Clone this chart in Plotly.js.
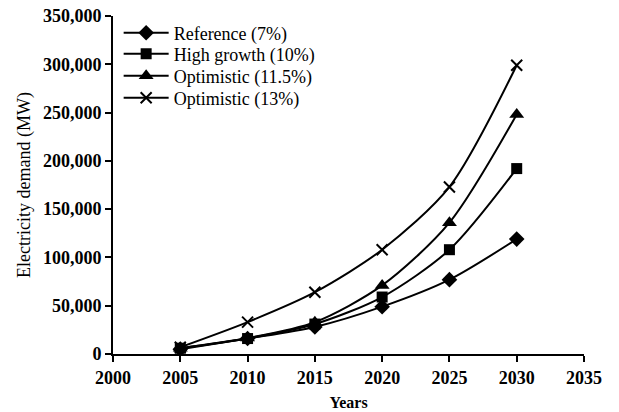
<!DOCTYPE html>
<html>
<head>
<meta charset="utf-8">
<script src="https://cdn.plot.ly/plotly-3.0.1.min.js"></script>
<style>html,body{margin:0;padding:0;background:#fff;}#chart{width:619px;height:412px;}</style>
</head>
<body>
<div id="chart"></div>
<script>
const years = [2005, 2010, 2015, 2020, 2025, 2030];
const reference7 = [5000, 16000, 28000, 49000, 77000, 119000];
const highGrowth10 = [6000, 16000, 31000, 59000, 108000, 192000];
const optimistic115 = [6000, 16500, 33000, 71000, 136000, 248000];
const optimistic13 = [7000, 33000, 64000, 108000, 173000, 299000];
const seriesNames = ['Reference (7%)', 'High growth (10%)', 'Optimistic (11.5%)', 'Optimistic (13%)'];
const xTicks = [2000, 2005, 2010, 2015, 2020, 2025, 2030, 2035];
const yTicks = [0, 50000, 100000, 150000, 200000, 250000, 300000, 350000];
const yTickText = ['0', '50,000', '100,000', '150,000', '200,000', '250,000', '300,000', '350,000'];

const font = 'Liberation Serif, Times New Roman, serif';
function tr(y, name, sym, size, legendId, lineW) {
  return {
    x: years, y: y, name: name, type: 'scatter', mode: 'lines+markers', legend: legendId,
    line: {color: '#000', width: 2, shape: 'spline', smoothing: 0.8},
    marker: {symbol: sym, size: size, color: '#000', line: {color: '#000', width: lineW || 0}}
  };
}
const data = [
  tr(reference7, seriesNames[0], 'diamond', 12, 'legend'),
  tr(highGrowth10, seriesNames[1], 'square', 11, 'legend2'),
  tr(optimistic115, seriesNames[2], 'triangle-up', 13, 'legend3'),
  tr(optimistic13, seriesNames[3], 'x-thin', 11, 'legend4', 2)
];
const rowPx = [33, 54, 76, 98];
function leg(py) {
  return {x: 0.012, y: (354 - py) / 338, xanchor: 'left', yanchor: 'middle', bgcolor: 'rgba(0,0,0,0)',
          font: {family: font, size: 18, color: '#000'}, itemwidth: 45};
}
const layout = {
  width: 619, height: 412,
  margin: {l: 113, r: 35, t: 16, b: 58},
  paper_bgcolor: '#fff', plot_bgcolor: '#fff',
  font: {family: font, color: '#000', size: 18},
  showlegend: true,
  legend: leg(rowPx[0]), legend2: leg(rowPx[1]), legend3: leg(rowPx[2]), legend4: leg(rowPx[3]),
  xaxis: {
    range: [2000, 2035], tickvals: xTicks, ticktext: xTicks.map(String),
    showgrid: false, zeroline: false, showline: true, linecolor: '#000', linewidth: 2,
    ticks: 'outside', ticklen: 6, tickwidth: 2, tickcolor: '#000',
    tickfont: {family: font, size: 18, color: '#000', weight: 'bold'},
    title: {text: 'Years', font: {family: font, size: 16, color: '#000', weight: 'bold'}, standoff: 10}
  },
  yaxis: {
    range: [0, 350000], tickvals: yTicks, ticktext: yTickText,
    showgrid: false, zeroline: false, showline: true, linecolor: '#000', linewidth: 2,
    ticks: 'outside', ticklen: 6, tickwidth: 2, tickcolor: '#000',
    tickfont: {family: font, size: 18, color: '#000', weight: 'bold'},
    title: {text: 'Electricity demand (MW)', font: {family: font, size: 18, color: '#000'}, standoff: 8}
  }
};
Plotly.newPlot('chart', data, layout, {displayModeBar: false, staticPlot: true});
</script>
</body>
</html>
